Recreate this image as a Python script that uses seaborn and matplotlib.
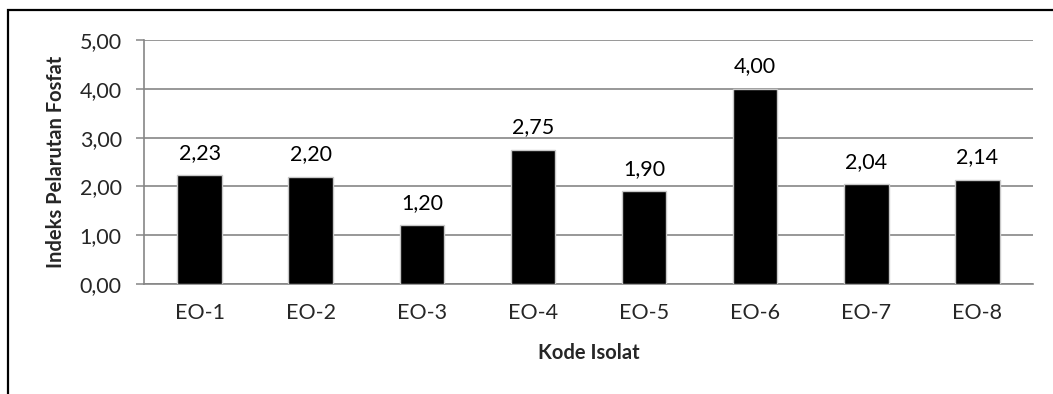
import matplotlib
matplotlib.use("Agg")
import matplotlib.pyplot as plt
from matplotlib.patches import Rectangle
import seaborn as sns
import pandas as pd

# Phosphate solubilisation index per isolate
isolates = ["EO-1", "EO-2", "EO-3", "EO-4", "EO-5", "EO-6", "EO-7", "EO-8"]
index_values = [2.23, 2.20, 1.20, 2.75, 1.90, 4.00, 2.04, 2.14]
y_ticks = [0, 1, 2, 3, 4, 5]

df = pd.DataFrame({"Isolat": isolates, "Indeks": index_values})

sns.set_theme(style="white")
plt.rcParams["font.family"] = ["Lato", "DejaVu Sans"]

W, H, DPI = 1053, 394, 100
fig = plt.figure(figsize=(W / DPI, H / DPI), dpi=DPI)
fig.patch.set_facecolor("white")

# outer chart frame (continues past the right and bottom edges)
fig.add_artist(Rectangle((8 / W, -0.1), 1.2, (H - 10) / H + 0.1,
                         transform=fig.transFigure, fill=False,
                         edgecolor="black", linewidth=1.6))

ax = fig.add_axes([144 / W, (H - 284) / H, (1033 - 144) / W, (284 - 40) / H])

grid_col = "#868686"
sns.barplot(data=df, x="Isolat", y="Indeks", color="black", width=0.4,
            edgecolor="#c8c8c8", linewidth=1.0, saturation=1, ax=ax, zorder=3)

fs = 15.5
ax.set_ylim(0, 5)
ax.set_yticks(y_ticks)
ax.set_yticklabels([f"{v:.2f}".replace(".", ",") for v in y_ticks], fontsize=fs)
ax.tick_params(axis="y", length=6, width=1.1, color=grid_col, pad=10, direction="out", left=True)
ax.tick_params(axis="x", length=0, pad=14, labelsize=fs)
ax.yaxis.grid(True, color=grid_col, linewidth=1.2)
ax.set_axisbelow(True)

for side in ["top", "right"]:
    ax.spines[side].set_visible(False)
for side in ["left", "bottom"]:
    ax.spines[side].set_color(grid_col)
    ax.spines[side].set_linewidth(1.2)

for i, v in enumerate(index_values):
    ax.annotate(f"{v:.2f}".replace(".", ","), (i, v), xytext=(0, 9),
                textcoords="offset points", ha="center", va="bottom",
                fontsize=fs, color="black")

ax.set_xlabel("Kode Isolat", fontsize=14.5, fontweight="bold", labelpad=14)
ax.set_ylabel("Indeks Pelarutan Fosfat", fontsize=14.5, fontweight="bold", labelpad=10)

fig.savefig("out.png", dpi=DPI, facecolor="white")
